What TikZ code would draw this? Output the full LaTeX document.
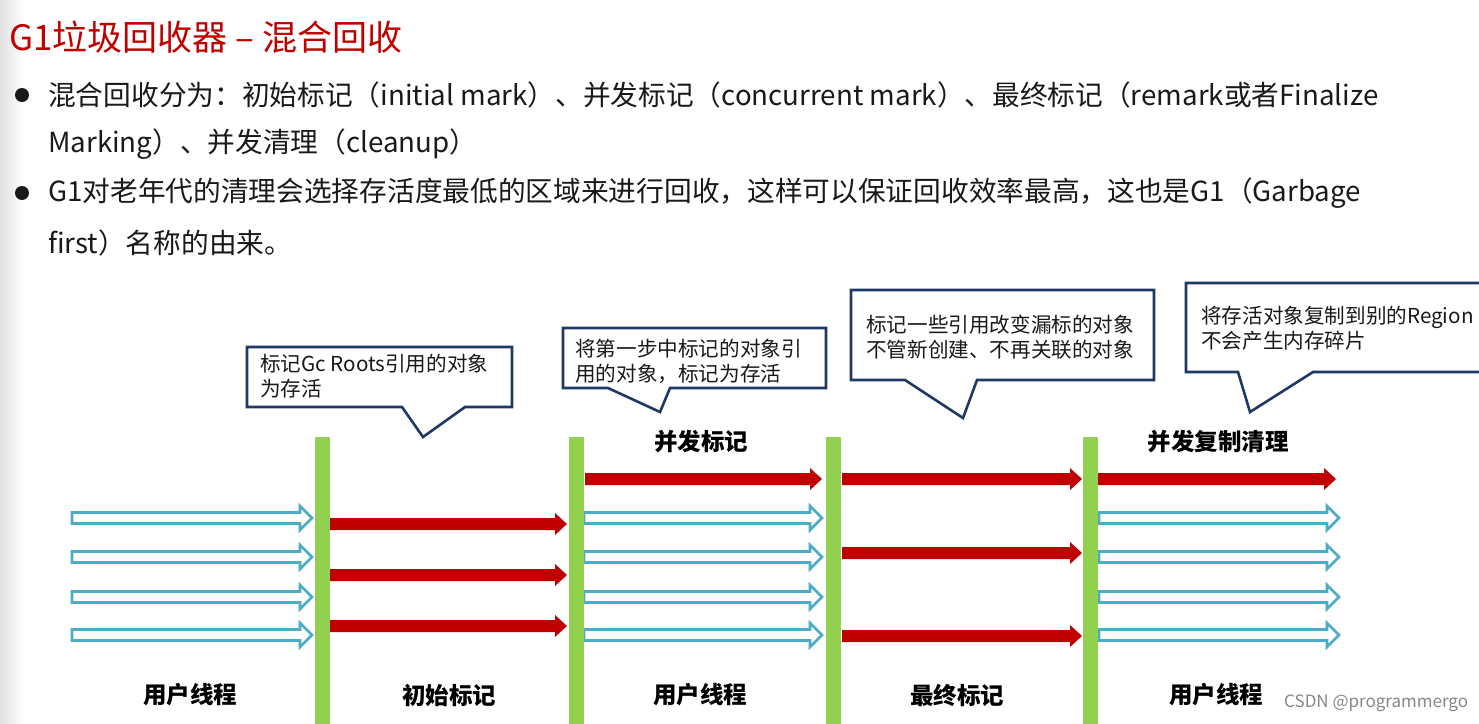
\documentclass[tikz,border=0pt]{standalone}
\usepackage{fontspec}
\setmainfont{Noto Sans CJK SC}
\definecolor{titlered}{RGB}{192,0,0}
\definecolor{arrred}{RGB}{192,0,0}
\definecolor{bargreen}{RGB}{146,208,80}
\definecolor{arrblue}{RGB}{75,172,198}
\definecolor{navy}{RGB}{31,56,100}
\definecolor{txt}{RGB}{25,25,25}
\definecolor{wm}{RGB}{135,135,135}
\newcommand\blockarrow[7]{%
  \path[#1] ({#2},{#4-#5}) -- ({#3-#7},{#4-#5}) -- ({#3-#7},{#4-#6}) -- ({#3},{#4})
    -- ({#3-#7},{#4+#6}) -- ({#3-#7},{#4+#5}) -- ({#2},{#4+#5}) -- cycle;}
\newcommand\bluearrow[3]{\blockarrow{hollowarrow}{#1}{#2}{#3}{5.5}{12}{12}}
\newcommand\redarrow[3]{\blockarrow{solidarrow}{#1}{#2}{#3}{6}{11}{12}}
\newcommand\callout[8]{%
  \draw[calloutbox] (#1,#2) -- (#3,#2) -- (#3,#4) -- (#6,#4) -- (#7,#8) -- (#5,#4) -- (#1,#4) -- cycle;}
\tikzset{
  hollowarrow/.style={draw=arrblue,line width=2.6pt,fill=white,line join=miter},
  solidarrow/.style={fill=arrred},
  bar/.style={fill=bargreen,inner sep=0,minimum width=15pt,minimum height=290pt,anchor=north},
  calloutbox/.style={draw=navy,line width=2.6pt,fill=white,line join=miter},
  callouttext/.style={anchor=west,inner sep=0,align=left,text=txt,font=\fontsize{20.6}{25}\selectfont},
  bodytext/.style={anchor=west,inner sep=0,text=txt,font=\fontsize{27.7}{27.7}\selectfont},
  phase/.style={inner sep=0,text=black,font=\fontsize{23.5}{24}\selectfont\bfseries},
}
\begin{document}
\begin{tikzpicture}[x=1pt,y=-1pt]
\clip (0,0) rectangle (1479,723);
\fill[white] (0,0) rectangle (1479,723);
\shade[left color=black!12,right color=white] (0,0) rectangle (24,723);
% title
\node[anchor=west,inner sep=0,text=titlered,font=\fontsize{35}{35}\selectfont] (title) at (9,37) {G1垃圾回收器 – 混合回收};
% bullets
\fill[txt] (22,95) circle (7) (22,193) circle (7);
\node[bodytext] (l1) at (48,95) {混合回收分为：初始标记（initial mark）、并发标记（concurrent mark）、最终标记（remark或者Finalize};
\node[bodytext] (l2) at (48,144) {Marking）、并发清理（cleanup）};
\node[bodytext] (l3) at (48,193) {G1对老年代的清理会选择存活度最低的区域来进行回收，这样可以保证回收效率最高，这也是G1（Garbage};
\node[bodytext] (l4) at (48,243) {first）名称的由来。};
% arrows segment 1
\foreach \y in {518,557,597,635} {\bluearrow{72}{312}{\y}}
% segment 2
\foreach \y in {524,575,626} {\redarrow{330}{567}{\y}}
% segment 3
\redarrow{585}{822}{479}
\foreach \y in {518,557,597,635} {\bluearrow{584}{822}{\y}}
% segment 4
\foreach \y in {479,553,636} {\redarrow{842}{1082}{\y}}
% segment 5
\redarrow{1098}{1336}{479}
\foreach \y in {518,557,597,635} {\bluearrow{1099}{1339}{\y}}
% bars
\node[bar] (bar1) at (322.5,437) {};
\node[bar] (bar2) at (576.5,437) {};
\node[bar] (bar3) at (833.5,437) {};
\node[bar] (bar4) at (1090.5,437) {};
% callouts
\callout{247}{347}{512}{407}{402}{465}{423}{437}
\node[callouttext] (c1) at (260,376) {标记Gc Roots引用的对象\\为存活};
\callout{563}{328}{826}{388}{608}{670}{660}{412}
\node[callouttext] (c2) at (575,361) {将第一步中标记的对象引\\用的对象，标记为存活};
\callout{851}{290}{1154}{380}{905}{977}{963}{418}
\node[callouttext] (c3) at (866,337) {标记一些引用改变漏标的对象\\不管新创建、不再关联的对象};
\callout{1186}{283}{1495}{372}{1238}{1313}{1250}{412}
\node[callouttext] (c4) at (1201,328) {将存活对象复制到别的Region\\不会产生内存碎片};
% phase labels
\node[phase] (p1) at (701,442) {并发标记};
\node[phase] (p2) at (1218,442) {并发复制清理};
\node[phase] (u1) at (190,695) {用户线程};
\node[phase] (i1) at (449,695) {初始标记};
\node[phase] (u2) at (700,695) {用户线程};
\node[phase] (f1) at (957,695) {最终标记};
\node[phase] (u3) at (1216,695) {用户线程};
% watermark
\node[anchor=west,inner sep=0,text=wm,font=\fontsize{17}{17}\selectfont] (wmark) at (1284,703) {CSDN @programmergo};
\end{tikzpicture}
\end{document}
